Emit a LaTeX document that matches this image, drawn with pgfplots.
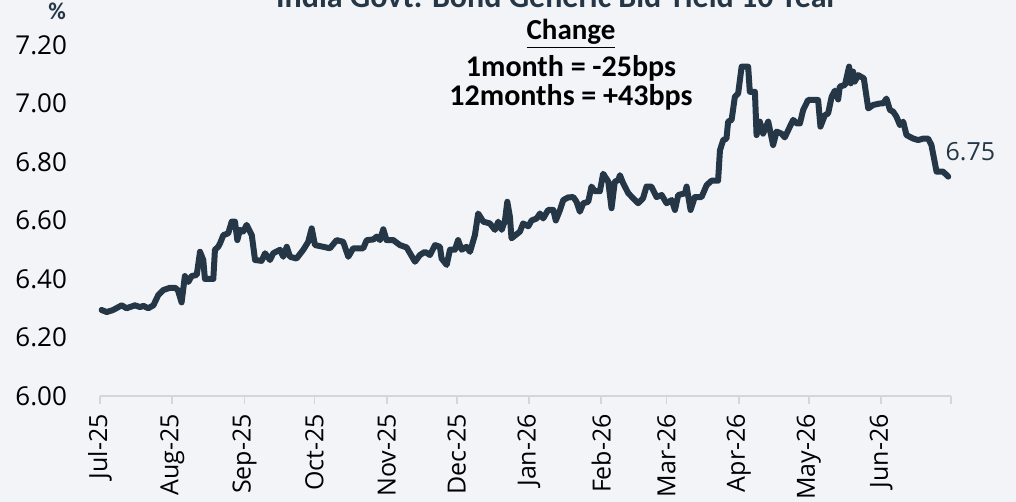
\documentclass[border=0pt]{standalone}
\usepackage{fontspec}
\setmainfont{Open Sans}
\newfontfamily\calibri{Carlito}
\usepackage{xcolor}
\definecolor{bgGrey}{HTML}{F2F4F8}
\definecolor{yldNavy}{HTML}{253746}
\definecolor{axGrey}{HTML}{D6D6D6}
\usepackage{pgfplots}
\pgfplotsset{compat=1.18}

\begin{document}
\begin{tikzpicture}
\fill[bgGrey] (-50pt,-53pt) rectangle (458pt,198pt);
\begin{axis}[
    at={(0,0)}, anchor=south west,
    scale only axis,
    width=425.5pt, height=175.5pt,
    xmin=0, xmax=365,
    ymin=6, ymax=7.2,
    axis x line*=bottom,
    axis y line*=left,
    y axis line style={draw=none},
    x axis line style={axGrey, line width=0.8pt},
    xtick={0,31,62,92,123,153,184,215,243,274,304,335,365},
    xticklabels={Jul-25,Aug-25,Sep-25,Oct-25,Nov-25,Dec-25,Jan-26,Feb-26,Mar-26,Apr-26,May-26,Jun-26,{}},
    x tick style={axGrey, line width=0.8pt},
    tick align=outside,
    major tick length=4pt,
    xticklabel style={rotate=90, anchor=east, font=\fontsize{12.5}{14}\selectfont, xshift=-1.5pt},
    ytick={6,6.2,6.4,6.6,6.8,7,7.2},
    ytick style={draw=none},
    yticklabel style={font=\fontsize{13}{15}\selectfont, xshift=-9pt},
    /pgf/number format/assume math mode=true,
    yticklabel={\pgfmathprintnumber[fixed,fixed zerofill,precision=2]{\tick}},
    clip=false,
]
\addplot[yldNavy, line width=3pt, line join=round, line cap=round] coordinates {
(0.7,6.294) (2.9,6.287) (5.6,6.294) (9.3,6.31) (11.4,6.30) (15.0,6.31)
(17.2,6.304) (18.6,6.308) (20.7,6.30) (22.9,6.31) (25.0,6.345) (27.1,6.362)
(30.0,6.37) (32.2,6.37) (33.4,6.362) (35.0,6.32) (36.4,6.41) (37.9,6.39)
(39.3,6.41) (41.5,6.414) (42.9,6.493) (44.3,6.465) (45.0,6.40) (48.6,6.40)
(49.3,6.50) (50.7,6.51) (51.5,6.522) (52.9,6.55) (55.0,6.556) (56.5,6.596)
(57.9,6.596) (58.9,6.533) (60.0,6.568) (61.4,6.562) (62.9,6.585) (65.1,6.55)
(66.5,6.465) (69.3,6.462) (70.8,6.488) (72.9,6.465) (74.3,6.488) (77.2,6.50)
(78.6,6.476) (80.1,6.51) (81.5,6.476) (84.3,6.47) (87.2,6.50) (89.3,6.527)
(90.8,6.573) (92.2,6.516) (95.8,6.51) (98.6,6.505) (101.5,6.533) (104.3,6.527)
(106.5,6.476) (108.6,6.505) (112.9,6.505) (114.4,6.533) (117.2,6.535) (118.7,6.545)
(120.1,6.533) (121.5,6.57) (122.9,6.533) (125.8,6.533) (128.6,6.516) (131.5,6.508)
(135.1,6.459) (137.2,6.482) (139.4,6.493) (141.5,6.482) (143.7,6.516) (145.8,6.51)
(146.5,6.47) (148.7,6.448) (150.1,6.50) (152.2,6.50) (153.6,6.533) (155.1,6.50)
(157.2,6.51) (158.7,6.493) (160.8,6.55) (162.2,6.624) (164.4,6.596) (167.2,6.59)
(169.4,6.568) (170.8,6.596) (172.3,6.568) (173.7,6.60) (174.7,6.664) (175.8,6.613)
(176.5,6.539) (180.1,6.562) (181.5,6.59) (183.7,6.58) (185.1,6.60) (187.3,6.607)
(188.7,6.624) (190.1,6.607) (192.2,6.636) (194.4,6.636) (195.5,6.60) (197.3,6.636)
(198.7,6.67) (200.8,6.679) (203.0,6.68) (204.4,6.664) (205.8,6.63) (207.3,6.659)
(209.4,6.664) (210.8,6.716) (212.3,6.70) (214.4,6.70) (215.8,6.76) (218.0,6.733)
(219.4,6.642) (220.8,6.733) (222.3,6.738) (223.0,6.755) (224.4,6.727) (226.6,6.693)
(228.7,6.676) (230.8,6.659) (232.9,6.676) (234.4,6.716) (236.5,6.716) (238.7,6.68)
(240.9,6.687) (243.0,6.659) (245.2,6.67) (246.6,6.636) (248.0,6.687) (250.9,6.693)
(251.6,6.716) (253.3,6.636) (255.1,6.68) (258.0,6.68) (260.2,6.721) (262.3,6.736)
(265.1,6.736) (265.9,6.84) (267.3,6.875) (268.7,6.88) (269.4,6.938) (270.9,6.944)
(272.3,7.023) (273.7,7.034) (275.2,7.126) (278.0,7.126) (278.7,7.04) (280.9,7.04)
(281.6,6.892) (283.0,6.938) (284.4,6.897) (286.6,6.938) (288.7,6.858) (290.2,6.904)
(292.3,6.897) (293.7,6.884) (295.9,6.921) (297.3,6.944) (298.8,6.932) (300.2,6.932)
(301.6,6.978) (303.7,7.012) (308.0,7.012) (309.0,6.921) (310.9,6.96) (312.3,6.966)
(313.8,7.023) (315.2,7.044) (316.6,7.014) (317.3,7.058) (319.5,7.063) (321.3,7.126)
(322.0,7.069) (323.0,7.109) (323.7,7.075) (325.2,7.097) (327.6,7.086) (329.5,6.983)
(331.6,6.995) (334.5,7.00) (335.9,7.00) (337.3,7.017) (338.8,6.978) (340.2,6.972)
(341.6,6.955) (343.1,6.926) (344.5,6.938) (345.9,6.892) (348.8,6.88) (350.9,6.875)
(353.1,6.88) (355.2,6.88) (356.6,6.858) (358.8,6.767) (361.6,6.767) (363.8,6.75)
};
\node[anchor=base west, text=yldNavy, font=\fontsize{12.5}{14}\selectfont,
      inner sep=0pt] at ([xshift=-1.5pt, yshift=8pt]axis cs:363.8,6.75) {6.75};
\end{axis}
\node[anchor=base, text=yldNavy, font=\calibri\bfseries\fontsize{16}{19}\selectfont]
    at (228.5pt,194pt) {India Govt. Bond Generic Bid Yield 10 Year};
\node[anchor=base, text=yldNavy, font=\calibri\bfseries\fontsize{12}{14}\selectfont]
    at (-21.5pt,188pt) {\%};
\node[anchor=base, font=\calibri\bfseries\fontsize{14.5}{17}\selectfont]
    at (235.5pt,178pt) {\underline{Change}};
\node[anchor=base, font=\calibri\bfseries\fontsize{15}{18}\selectfont]
    at (235.5pt,159.5pt) {1month = -25bps};
\node[anchor=base, font=\calibri\bfseries\fontsize{15}{18}\selectfont]
    at (235.5pt,145pt) {12months = +43bps};
\pgfresetboundingbox
\path[use as bounding box] (-50pt,-53pt) rectangle (458pt,198pt);
\end{tikzpicture}
\end{document}
